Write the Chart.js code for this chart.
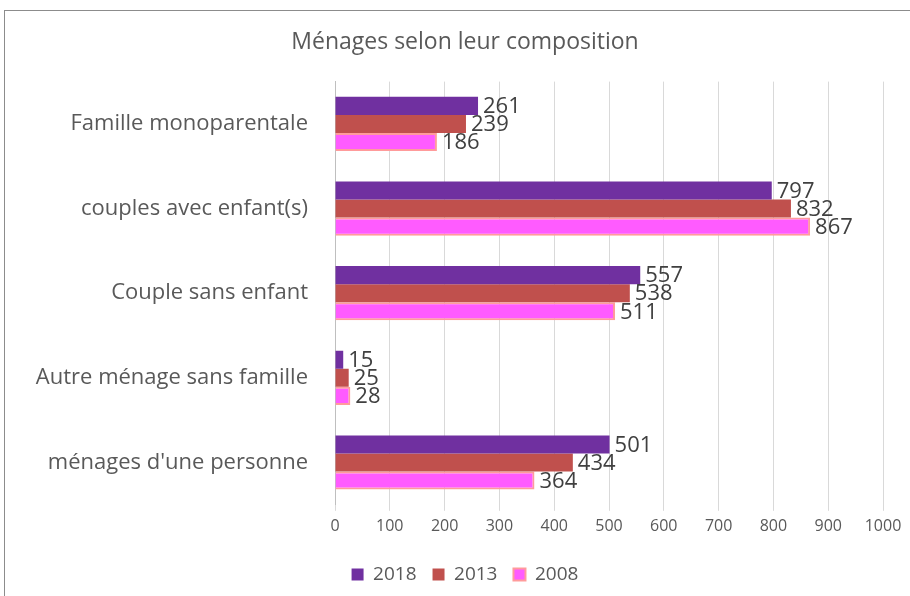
<!DOCTYPE html>
<html>
<head>
<meta charset="utf-8">
<script src="https://cdn.jsdelivr.net/npm/chart.js@4/dist/chart.umd.min.js"></script>
<style>
  html, body { margin: 0; padding: 0; background: #fff; }
  #wrap { position: relative; width: 910px; height: 596px; }
  #frame { position: absolute; left: 4px; top: 10px; width: 920px; height: 600px; border: 1px solid #8c8c8c; box-sizing: border-box; }
  canvas { position: absolute; left: 0; top: 0; }
</style>
</head>
<body>
<div id="wrap">
  <div id="frame"></div>
  <canvas id="menagesChart" width="910" height="596"></canvas>
</div>
<script>
// catégories (de haut en bas)
const categories = ['Famille monoparentale', 'couples avec enfant(s)', 'Couple sans enfant', 'Autre ménage sans famille', "ménages d'une personne"];
// valeurs par année
const values2018 = [261, 797, 557, 15, 501];
const values2013 = [239, 832, 538, 25, 434];
const values2008 = [186, 867, 511, 28, 364];
const xTicks = [0, 100, 200, 300, 400, 500, 600, 700, 800, 900, 1000];

const fontFamily = "'Open Sans', 'Liberation Sans', sans-serif";

// étiquettes de valeurs au bout des barres
const valueLabels = {
  id: 'valueLabels',
  afterLayout(chart) {
    // laisser déborder les libellés longs à gauche
    chart.scales.y.left = 0;
  },
  afterDatasetsDraw(chart) {
    const ctx = chart.ctx;
    ctx.save();
    ctx.font = '22px ' + fontFamily;
    ctx.fillStyle = '#404040';
    ctx.textBaseline = 'middle';
    ctx.textAlign = 'left';
    chart.data.datasets.forEach(function(ds, i) {
      chart.getDatasetMeta(i).data.forEach(function(bar, j) {
        ctx.fillText(ds.data[j], bar.x + 5, bar.y + 1);
      });
    });
    ctx.restore();
  }
};

const ctx = document.getElementById('menagesChart').getContext('2d');
new Chart(ctx, {
  type: 'bar',
  data: {
    labels: categories,
    datasets: [
      { label: '2018', data: values2018, backgroundColor: '#7030A0', borderWidth: 0 },
      { label: '2013', data: values2013, backgroundColor: '#C0504D', borderWidth: 0 },
      { label: '2008', data: values2008, backgroundColor: '#FF5BFF', borderColor: '#FF9B9B', borderWidth: 2 }
    ]
  },
  options: {
    indexAxis: 'y',
    responsive: false,
    animation: false,
    layout: { padding: { left: 47, right: 27, top: 0, bottom: 2 } },
    datasets: { bar: { categoryPercentage: 0.64, barPercentage: 1 } },
    scales: {
      x: {
        min: 0,
        max: 1000,
        afterBuildTicks: function(scale) { scale.ticks = xTicks.map(function(v) { return { value: v }; }); },
        afterFit: function(scale) { scale.height += 7; },
        grid: { color: '#d9d9d9', lineWidth: 1, tickLength: 6, drawTicks: true },
        border: { display: false },
        ticks: {
          color: '#595959',
          font: { family: fontFamily, size: 16 },
          padding: 6,
          callback: function(v) { return String(v); }
        }
      },
      y: {
        grid: { display: false },
        border: { display: true, color: '#bfbfbf', width: 1 },
        ticks: { color: '#595959', font: { family: fontFamily, size: 22 }, padding: 19 },
        afterFit: function(scale) { scale.width = 288; }
      }
    },
    plugins: {
      title: {
        display: true,
        text: 'Ménages selon leur composition',
        color: '#595959',
        font: { family: fontFamily, size: 23, weight: 'normal' },
        padding: { top: 29, bottom: 25 }
      },
      legend: {
        position: 'bottom',
        labels: {
          color: '#595959',
          font: { family: fontFamily, size: 19 },
          boxWidth: 12,
          boxHeight: 12,
          padding: 16
        }
      },
      tooltip: { enabled: false }
    }
  },
  plugins: [valueLabels]
});
</script>
</body>
</html>
